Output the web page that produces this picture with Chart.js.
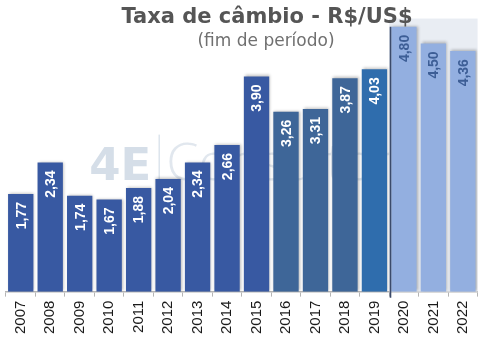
<!DOCTYPE html>
<html>
<head>
<meta charset="utf-8">
<script src="https://cdn.jsdelivr.net/npm/chart.js@4/dist/chart.umd.min.js"></script>
<style>
  html, body { margin: 0; padding: 0; background: #ffffff; }
  #wrap { width: 485px; height: 349px; position: relative; }
</style>
</head>
<body>
<div id="wrap"><canvas id="c"></canvas></div>
<script>
// Exchange rate, end of period (R$/US$)
const years = ['2007','2008','2009','2010','2011','2012','2013','2014','2015','2016','2017','2018','2019','2020','2021','2022'];
const rates = [1.77, 2.34, 1.74, 1.67, 1.88, 2.04, 2.34, 2.66, 3.90, 3.26, 3.31, 3.87, 4.03, 4.80, 4.50, 4.36];
const rateLabels = ['1,77','2,34','1,74','1,67','1,88','2,04','2,34','2,66','3,90','3,26','3,31','3,87','4,03','4,80','4,50','4,36'];
// first projected year
const forecastStart = '2020';

const titleText = 'Taxa de câmbio - R$/US$';
const subtitleText = '(fim de período)';

const fcIdx = years.indexOf(forecastStart);

function barColor(i) {
  if (i >= fcIdx) return '#93AFE0';
  if (i === fcIdx - 1) return '#2F6DAD';
  if (i >= 9) return '#3E6698';
  return '#3859A2';
}

// watermark, projection shading, bar shadows, value labels, titles
const decor = {
  id: 'decor',
  beforeDatasetsDraw(chart) {
    const { ctx, chartArea, scales } = chart;
    const x = scales.x, y = scales.y;
    const step = x.getPixelForValue(1) - x.getPixelForValue(0);
    // watermark
    ctx.save();
    const wx = x.getPixelForValue(3) - 20;
    const wy = y.getPixelForValue(2.03);
    ctx.fillStyle = 'rgba(195,208,222,0.7)';
    ctx.font = 'bold 45px "DejaVu Sans"';
    ctx.textBaseline = 'alphabetic';
    ctx.fillText('4E', wx, wy);
    ctx.strokeStyle = 'rgba(190,205,220,0.8)';
    ctx.lineWidth = 1;
    ctx.beginPath();
    ctx.moveTo(wx + 70, wy - 45);
    ctx.lineTo(wx + 70, wy + 5);
    ctx.stroke();
    ctx.fillStyle = 'rgba(200,212,224,0.55)';
    ctx.font = '300 52px "Open Sans"';
    ctx.fillText('Consultoria', wx + 77, wy);
    ctx.restore();
    // projection background
    const left = x.getPixelForValue(fcIdx) - step / 2;
    const top = y.getPixelForValue(4.95);
    ctx.save();
    ctx.fillStyle = '#E9EDF3';
    ctx.fillRect(left, top, chartArea.right - left, chartArea.bottom - top);
    ctx.restore();
  },
  beforeDatasetDraw(chart) {
    const ctx = chart.ctx;
    ctx.save();
    ctx.shadowColor = 'rgba(0,0,0,0.28)';
    ctx.shadowBlur = 3;
    ctx.shadowOffsetX = 1;
    ctx.shadowOffsetY = -1;
  },
  afterDatasetDraw(chart) {
    chart.ctx.restore();
  },
  afterDatasetsDraw(chart) {
    const { ctx, scales } = chart;
    const meta = chart.getDatasetMeta(0);
    // divider at the first projected bar
    const fb = meta.data[fcIdx];
    ctx.save();
    ctx.strokeStyle = '#3B4A6A';
    ctx.lineWidth = 1.6;
    const lx = Math.round(fb.x - fb.width / 2) - 0.5;
    ctx.beginPath();
    ctx.moveTo(lx, fb.y);
    ctx.lineTo(lx, scales.y.getPixelForValue(0) + 6);
    ctx.stroke();
    ctx.restore();
    // value labels
    meta.data.forEach((bar, i) => {
      ctx.save();
      ctx.translate(bar.x + 1, bar.y + 8);
      ctx.rotate(-Math.PI / 2);
      ctx.font = 'bold 14px "Liberation Sans"';
      ctx.textAlign = 'right';
      ctx.textBaseline = 'middle';
      ctx.fillStyle = i >= fcIdx ? '#3D5E96' : '#FFFFFF';
      ctx.fillText(rateLabels[i], 0, 0);
      ctx.restore();
    });
  },
  afterDraw(chart) {
    const ctx = chart.ctx;
    ctx.save();
    ctx.textAlign = 'center';
    ctx.textBaseline = 'alphabetic';
    ctx.fillStyle = '#555555';
    ctx.font = 'bold 21px "DejaVu Sans"';
    ctx.fillText(titleText, 267, 23);
    ctx.fillStyle = '#707070';
    ctx.font = '17px "DejaVu Sans"';
    ctx.fillText(subtitleText, 266, 46);
    ctx.restore();
  }
};

new Chart(document.getElementById('c'), {
  type: 'bar',
  data: {
    labels: years,
    datasets: [{
      data: rates,
      backgroundColor: rates.map((v, i) => barColor(i)),
      borderWidth: 0,
      barPercentage: 0.86,
      categoryPercentage: 1.0
    }]
  },
  options: {
    responsive: true,
    maintainAspectRatio: false,
    animation: false,
    layout: { padding: { left: 6, right: 5, top: 2, bottom: 11 } },
    plugins: {
      legend: { display: false },
      tooltip: { enabled: false },
      title: { display: false }
    },
    scales: {
      x: {
        offset: true,
        grid: {
          display: true,
          offset: true,
          drawOnChartArea: false,
          drawTicks: true,
          tickLength: 5,
          color: '#B5B5B5'
        },
        border: { display: true, color: '#B5B5B5', width: 1.5 },
        ticks: {
          minRotation: 90,
          maxRotation: 90,
          padding: 4,
          color: '#1A1A1A',
          font: { family: '"Liberation Sans"', size: 15 }
        }
      },
      y: {
        display: false,
        min: 0,
        max: 5.25
      }
    }
  },
  plugins: [decor]
});
</script>
</body>
</html>
